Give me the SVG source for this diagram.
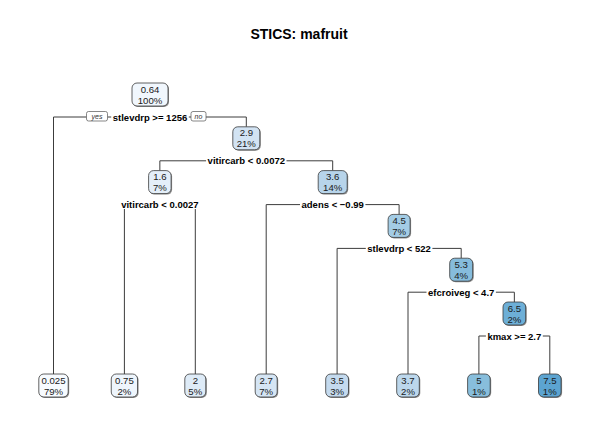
<svg xmlns="http://www.w3.org/2000/svg" width="598" height="426" viewBox="0 0 598 426">
<style>
.bg{fill:#ffffff}
.title{font-family:"Liberation Sans",Arial,sans-serif;font-size:14px;font-weight:bold;fill:#000;text-anchor:middle}
.box{stroke:#3a3a3a;stroke-width:0.8}
.shadow{fill:#8f8f8f}
.nt{font-family:"Liberation Sans",Arial,sans-serif;font-size:9.6px;fill:#1a1a1a;text-anchor:middle}
.sl{font-family:"Liberation Sans",Arial,sans-serif;font-size:9.5px;font-weight:bold;fill:#000;text-anchor:middle}
.conn{fill:none;stroke:#3c3c3c;stroke-width:1}
.yn{fill:#fff;stroke:#555;stroke-width:0.7}
.ynt{font-family:"Liberation Sans",Arial,sans-serif;font-size:7px;font-style:italic;fill:#333;text-anchor:middle}
</style>
<rect class="bg" x="0" y="0" width="598" height="426"/>
<text class="title" x="299" y="38.5">STICS: mafruit</text>

<g id="connectors">
  <!-- root -->
  <path class="conn" d="M53.5,374 V117 H86.5"/>
  <path class="conn" d="M107.5,117 H111.2"/>
  <path class="conn" d="M188.8,117 H191"/>
  <path class="conn" d="M206,117 H246.3 V126.8"/>
  <!-- 2.9 -->
  <path class="conn" d="M159.85,170.6 V160.8 H206.1"/>
  <path class="conn" d="M286.5,160.8 H332.7 V170.6"/>
  <!-- 1.6 -->
  <path class="conn" d="M124.4,209 V374"/>
  <path class="conn" d="M195.3,209 V374"/>
  <!-- 3.6 -->
  <path class="conn" d="M266.2,374 V204.6 H300"/>
  <path class="conn" d="M365.4,204.6 H399.1 V214.4"/>
  <!-- 4.5 -->
  <path class="conn" d="M337.1,374 V248.4 H365.8"/>
  <path class="conn" d="M432.4,248.4 H461.2 V258.2"/>
  <!-- 5.3 -->
  <path class="conn" d="M408,374 V292.2 H426.5"/>
  <path class="conn" d="M495.9,292.2 H514.35 V302"/>
  <!-- 6.5 -->
  <path class="conn" d="M478.9,374 V336 H485.9"/>
  <path class="conn" d="M542.8,336 H549.8 V374"/>
  <!-- yes / no -->
  <rect class="yn" x="86.5" y="111.5" width="21" height="9.5" rx="2"/>
  <text class="ynt" x="97" y="119">yes</text>
  <rect class="yn" x="191" y="111.5" width="15" height="9.5" rx="2"/>
  <text class="ynt" x="198.5" y="119">no</text>
</g>

<g id="node1">
  <rect class="shadow" x="133" y="84" width="36" height="23" rx="5"/>
  <rect class="box" x="132" y="83" width="36" height="23" rx="5" fill="#F1F7FD"/>
  <text class="nt" x="150" y="92.5">0.64</text>
  <text class="nt" x="150" y="103.5">100%</text>
  <text class="sl" x="150" y="120.5">stlevdrp &gt;= 1256</text>
</g>

<g id="node3">
  <rect class="shadow" x="233.8" y="127.8" width="27" height="23" rx="5"/>
  <rect class="box" x="232.8" y="126.8" width="27" height="23" rx="5" fill="#D2E3F3"/>
  <text class="nt" x="246.3" y="136.3">2.9</text>
  <text class="nt" x="246.3" y="147.3">21%</text>
  <text class="sl" x="246.3" y="164.3">vitircarb &lt; 0.0072</text>
</g>

<g id="node6">
  <rect class="shadow" x="149.6" y="171.6" width="22.5" height="23" rx="5"/>
  <rect class="box" x="148.6" y="170.6" width="22.5" height="23" rx="5" fill="#E4EFF9"/>
  <text class="nt" x="159.85" y="180.1">1.6</text>
  <text class="nt" x="159.85" y="191.1">7%</text>
  <text class="sl" x="159.85" y="208.1">vitircarb &lt; 0.0027</text>
</g>

<g id="node7">
  <rect class="shadow" x="319.2" y="171.6" width="29" height="23" rx="5"/>
  <rect class="box" x="318.2" y="170.6" width="29" height="23" rx="5" fill="#B7D4EA"/>
  <text class="nt" x="332.7" y="180.1">3.6</text>
  <text class="nt" x="332.7" y="191.1">14%</text>
  <text class="sl" x="332.7" y="208.1">adens &lt; −0.99</text>
</g>

<g id="node15">
  <rect class="shadow" x="389.1" y="215.4" width="22" height="23" rx="5"/>
  <rect class="box" x="388.1" y="214.4" width="22" height="23" rx="5" fill="#A3CCE5"/>
  <text class="nt" x="399.1" y="223.9">4.5</text>
  <text class="nt" x="399.1" y="234.9">7%</text>
  <text class="sl" x="399.1" y="251.9">stlevdrp &lt; 522</text>
</g>

<g id="node31">
  <rect class="shadow" x="450.7" y="259.2" width="23" height="23" rx="5"/>
  <rect class="box" x="449.7" y="258.2" width="23" height="23" rx="5" fill="#86BCDC"/>
  <text class="nt" x="461.2" y="267.7">5.3</text>
  <text class="nt" x="461.2" y="278.7">4%</text>
  <text class="sl" x="461.2" y="295.7">efcroiveg &lt; 4.7</text>
</g>

<g id="node63">
  <rect class="shadow" x="504" y="303" width="22.7" height="23" rx="5"/>
  <rect class="box" x="503" y="302" width="22.7" height="23" rx="5" fill="#6DAFD7"/>
  <text class="nt" x="514.35" y="311.5">6.5</text>
  <text class="nt" x="514.35" y="322.5">2%</text>
  <text class="sl" x="514.35" y="339.5">kmax &gt;= 2.7</text>
</g>

<g id="leaf2">
  <rect class="shadow" x="39.8" y="375" width="29.4" height="23" rx="5"/>
  <rect class="box" x="38.8" y="374" width="29.4" height="23" rx="5" fill="#F7FBFF"/>
  <text class="nt" x="53.5" y="383.5">0.025</text>
  <text class="nt" x="53.5" y="394.5">79%</text>
</g>

<g id="leaf12">
  <rect class="shadow" x="112.25" y="375" width="26.3" height="23" rx="5"/>
  <rect class="box" x="111.25" y="374" width="26.3" height="23" rx="5" fill="#EEF5FC"/>
  <text class="nt" x="124.4" y="383.5">0.75</text>
  <text class="nt" x="124.4" y="394.5">2%</text>
</g>

<g id="leaf13">
  <rect class="shadow" x="185.8" y="375" width="21" height="23" rx="5"/>
  <rect class="box" x="184.8" y="374" width="21" height="23" rx="5" fill="#DEEBF7"/>
  <text class="nt" x="195.3" y="383.5">2</text>
  <text class="nt" x="195.3" y="394.5">5%</text>
</g>

<g id="leaf14">
  <rect class="shadow" x="256.2" y="375" width="22" height="23" rx="5"/>
  <rect class="box" x="255.2" y="374" width="22" height="23" rx="5" fill="#D5E5F4"/>
  <text class="nt" x="266.2" y="383.5">2.7</text>
  <text class="nt" x="266.2" y="394.5">7%</text>
</g>

<g id="leaf30">
  <rect class="shadow" x="326.7" y="375" width="22.8" height="23" rx="5"/>
  <rect class="box" x="325.7" y="374" width="22.8" height="23" rx="5" fill="#C4DAEE"/>
  <text class="nt" x="337.1" y="383.5">3.5</text>
  <text class="nt" x="337.1" y="394.5">3%</text>
</g>

<g id="leaf62">
  <rect class="shadow" x="397.7" y="375" width="22.6" height="23" rx="5"/>
  <rect class="box" x="396.7" y="374" width="22.6" height="23" rx="5" fill="#BCD7EC"/>
  <text class="nt" x="408" y="383.5">3.7</text>
  <text class="nt" x="408" y="394.5">2%</text>
</g>

<g id="leaf126">
  <rect class="shadow" x="468.6" y="375" width="22.6" height="23" rx="5"/>
  <rect class="box" x="467.6" y="374" width="22.6" height="23" rx="5" fill="#88BEDC"/>
  <text class="nt" x="478.9" y="383.5">5</text>
  <text class="nt" x="478.9" y="394.5">1%</text>
</g>

<g id="leaf127">
  <rect class="shadow" x="539.5" y="375" width="22.6" height="23" rx="5"/>
  <rect class="box" x="538.5" y="374" width="22.6" height="23" rx="5" fill="#5CA4D1"/>
  <text class="nt" x="549.8" y="383.5">7.5</text>
  <text class="nt" x="549.8" y="394.5">1%</text>
</g>
</svg>
